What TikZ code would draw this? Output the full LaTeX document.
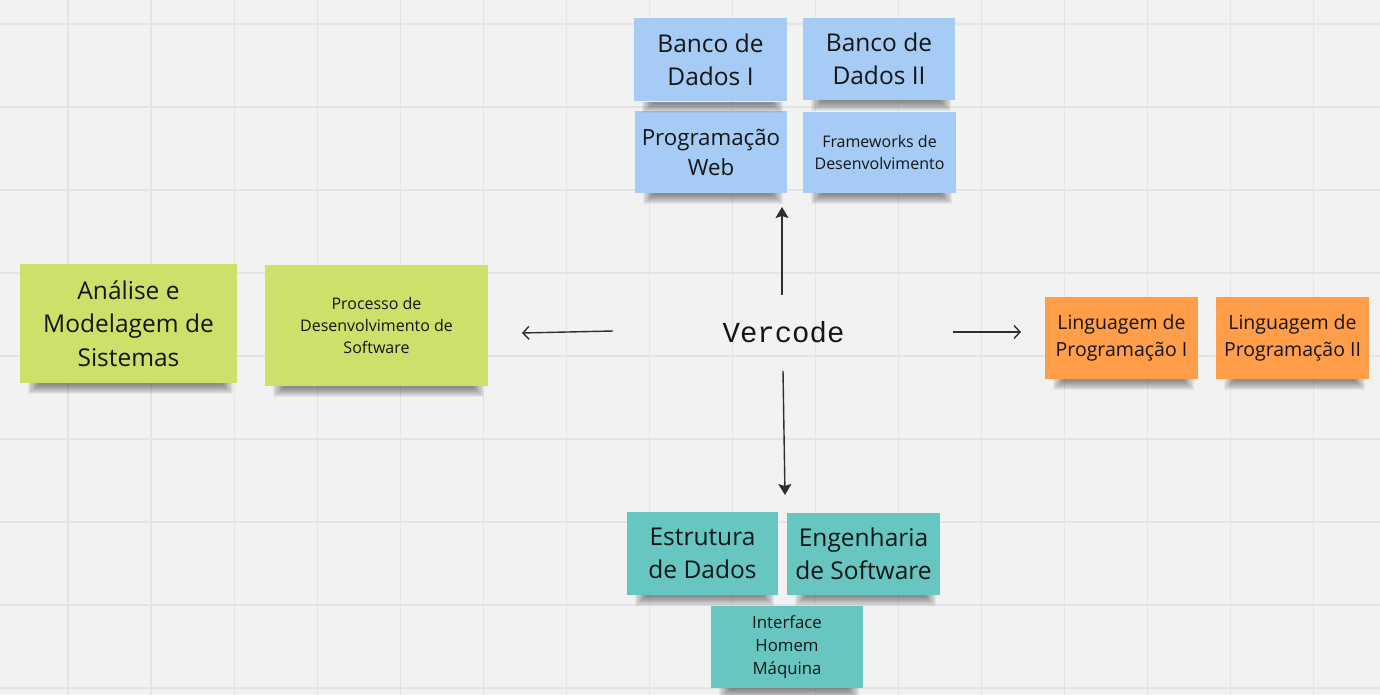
\documentclass[tikz,border=0pt]{standalone}
\usepackage{fontspec}
\setmainfont{Open Sans}
\newfontfamily\vmono{Liberation Mono}
\usetikzlibrary{arrows.meta}
\definecolor{bg}{HTML}{F2F2F2}
\definecolor{gridc}{HTML}{E4E4E4}
\definecolor{sblue}{HTML}{A6CCF5}
\definecolor{sgreen}{HTML}{CEE06A}
\definecolor{sorange}{HTML}{FF9D48}
\definecolor{steal}{HTML}{67C6C0}
\definecolor{ink}{HTML}{151515}
\definecolor{arr}{HTML}{2E2E2E}
\newcommand\stickyshadow[1]{%
  \foreach \i in {0,...,9}{%
    \fill[black,opacity=0.05] ([xshift={8pt+1.2pt*\i}]#1.south west) rectangle ([xshift={-4pt-1.2pt*\i},yshift={-(11-\i)*1pt}]#1.south east);}}
\begin{document}
\begin{tikzpicture}[x=1pt,y=-1pt,
  sticky/.style={inner sep=0pt, align=center, text=ink, minimum width=152pt, minimum height=82pt},
  bigt/.style={font=\fontsize{24.5}{33.5}\selectfont},
  midt/.style={font=\fontsize{22.3}{30}\selectfont},
  lingt/.style={font=\fontsize{19.5}{27}\selectfont},
  smallt/.style={font=\fontsize{16}{22}\selectfont},
  ihmt/.style={font=\fontsize{16.8}{23}\selectfont},
  filledarrow/.style={draw=arr, line width=1.4pt, -{Stealth[length=11pt,width=13pt,inset=2pt]}},
  openarrow/.style={draw=arr, line width=1.4pt, -{Straight Barb[length=6pt,width=13pt,line width=1.4pt]}}
]
\fill[bg] (0,0) rectangle (1380,695);
\useasboundingbox (0,0) rectangle (1380,695);
\foreach \k in {0,...,15}{\draw[gridc, line width=1.2pt] ({68+83.05*\k},0) -- ({68+83.05*\k},695);}
\foreach \k in {0,...,8}{\draw[gridc, line width=1.2pt] (0,{24+83*\k}) -- (1380,{24+83*\k});}

% top group (blue)
\node[sticky, bigt, fill=sblue, minimum width=153pt, minimum height=83pt] (bd1) at (710.5,60) {Banco de\\Dados I};
\node[sticky, bigt, fill=sblue] (bd2) at (879,59) {Banco de\\Dados II};
\node[sticky, midt, fill=sblue] (pw) at (711,152) {Programação\\Web};
\node[sticky, smallt, fill=sblue, minimum width=153pt, minimum height=81pt] (fw) at (879.5,152.5) {Frameworks de\\Desenvolvimento};

% left group (green)
\node[sticky, bigt, fill=sgreen, minimum width=217pt, minimum height=119pt] (an) at (128.5,323.5) {Análise e\\Modelagem de\\Sistemas};
\node[sticky, smallt, fill=sgreen, minimum width=223pt, minimum height=121pt] (pr) at (376.5,325.5) {Processo de\\Desenvolvimento de\\Software};

% right group (orange)
\node[sticky, lingt, fill=sorange, minimum width=153pt] (l1) at (1121.5,338) {Linguagem de\\Programação I};
\node[sticky, lingt, fill=sorange, minimum width=153pt] (l2) at (1292.5,338) {Linguagem de\\Programação II};

% bottom group (teal)
\node[sticky, bigt, fill=steal, minimum width=151pt, minimum height=83pt] (es) at (702.5,553.5) {Estrutura\\de Dados};
\node[sticky, bigt, fill=steal, minimum width=153pt] (en) at (863.5,554) {Engenharia\\de Software};
\node[sticky, ihmt, fill=steal] (ih) at (787,647) {Interface\\Homem\\Máquina};

\foreach \n in {bd1,bd2,pw,fw,an,pr,l1,l2,es,en,ih}{\stickyshadow{\n}}

% center
\node[text=ink, font=\vmono\fontsize{29}{30}\selectfont, inner sep=0pt] (v) at (783.5,332) {Vercode};

\coordinate (upS) at (782,295);
\coordinate (upE) at (782,207);
\coordinate (dnS) at (783,371);
\coordinate (dnE) at (785,495);
\coordinate (rtS) at (953,332);
\coordinate (rtE) at (1021,332);
\coordinate (ltS) at (613,331);
\coordinate (ltE) at (522,333);

\draw[filledarrow] (upS) -- (upE);
\draw[filledarrow] (dnS) -- (dnE);
\draw[openarrow] (rtS) -- (rtE);
\draw[openarrow] (ltS) -- (ltE);
\end{tikzpicture}
\end{document}
